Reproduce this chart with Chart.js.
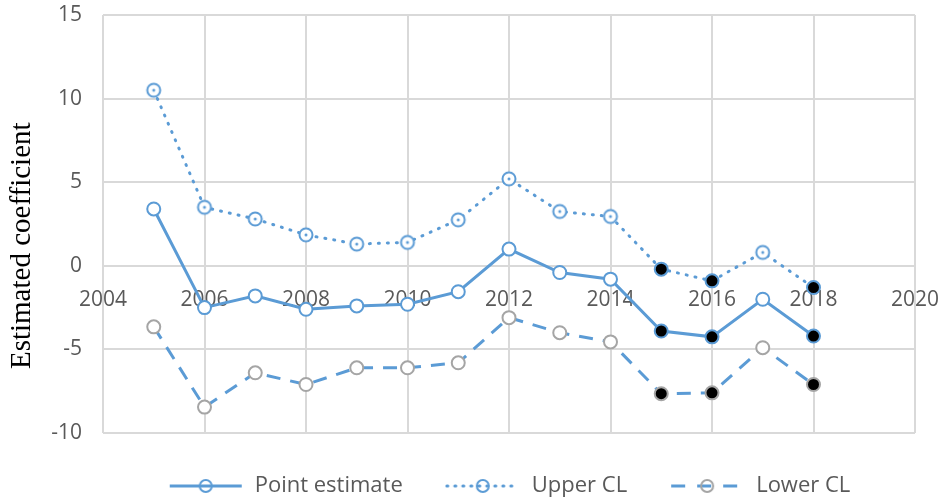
<!DOCTYPE html>
<html>
<head>
<meta charset="utf-8">
<script src="https://cdn.jsdelivr.net/npm/chart.js@4.4.1/dist/chart.umd.min.js"></script>
<style>
  html, body { margin: 0; padding: 0; background: #fff; }
  #wrap { width: 947px; height: 504px; }
</style>
</head>
<body>
<div id="wrap"><canvas id="chart"></canvas></div>
<script>
// values
const years = [2005, 2006, 2007, 2008, 2009, 2010, 2011, 2012, 2013, 2014, 2015, 2016, 2017, 2018];
const pointEstimate = [3.4, -2.5, -1.8, -2.6, -2.4, -2.3, -1.55, 1.0, -0.4, -0.8, -3.9, -4.25, -2.0, -4.2];
const upperCL = [10.5, 3.5, 2.8, 1.85, 1.3, 1.4, 2.75, 5.2, 3.25, 2.95, -0.2, -0.9, 0.8, -1.3];
const lowerCL = [-3.65, -8.45, -6.4, -7.1, -6.1, -6.1, -5.8, -3.1, -4.0, -4.55, -7.65, -7.6, -4.9, -7.1];
const seriesNames = ["Point estimate", "Upper CL", "Lower CL"];
const xTicks = [2004, 2020, 2];   // min, max, step
const yTicks = [-10, 15, 5];

const BLUE = "#5B9BD5";
const GREY = "#A5A5A5";

// significant years (upper CL below zero) get black filled markers
const fills = upperCL.map(v => (v < 0 ? "#000" : "#fff"));
const toXY = arr => years.map((yr, i) => ({ x: yr, y: arr[i] }));

// open ring with a dot in the middle (upper CL markers)
function dotRing() {
  const c = document.createElement("canvas");
  c.width = 18; c.height = 18;
  const g = c.getContext("2d");
  g.fillStyle = "#fff";
  g.beginPath(); g.arc(9, 9, 6.5, 0, Math.PI * 2); g.fill();
  g.strokeStyle = BLUE; g.lineWidth = 2; g.stroke();
  g.fillStyle = BLUE;
  g.beginPath(); g.arc(9, 9, 1.5, 0, Math.PI * 2); g.fill();
  return c;
}
const upperMarker = dotRing();

// little line + marker pictures for the legend
const ICON_W = 76;
function legendIcon(dash, cap, ring) {
  const c = document.createElement("canvas");
  c.width = ICON_W; c.height = 16;
  const g = c.getContext("2d");
  g.strokeStyle = BLUE;
  g.lineWidth = 3;
  g.lineCap = cap;
  g.setLineDash(dash);
  g.beginPath(); g.moveTo(2, 8); g.lineTo(ICON_W - 2, 8); g.stroke();
  g.setLineDash([]);
  g.beginPath(); g.arc(ICON_W / 2, 8, 6, 0, Math.PI * 2);
  g.strokeStyle = ring; g.lineWidth = 2; g.stroke();
  return c;
}
const icons = [
  legendIcon([], "butt", BLUE),
  legendIcon([1, 7], "round", BLUE),
  legendIcon([14, 12], "butt", GREY)
];

const common = {
  borderWidth: 3,
  pointRadius: 6.5,
  pointBorderWidth: 2,
  pointBackgroundColor: fills,
  pointHoverRadius: 6.5,
  tension: 0,
  showLine: true
};

new Chart(document.getElementById("chart"), {
  type: "scatter",
  data: {
    datasets: [
      Object.assign({}, common, {
        label: seriesNames[0], data: toXY(pointEstimate),
        borderColor: BLUE, pointBorderColor: BLUE
      }),
      Object.assign({}, common, {
        label: seriesNames[1], data: toXY(upperCL),
        borderColor: BLUE, pointBorderColor: BLUE,
        pointStyle: ctx => (fills[ctx.dataIndex] === "#fff" ? upperMarker : "circle"),
        borderDash: [1, 8], borderCapStyle: "round"
      }),
      Object.assign({}, common, {
        label: seriesNames[2], data: toXY(lowerCL),
        borderColor: BLUE, pointBorderColor: GREY,
        borderDash: [14, 10]
      })
    ]
  },
  options: {
    responsive: true,
    maintainAspectRatio: false,
    animation: false,
    layout: { padding: { top: 15, right: 32, bottom: -3, left: 0 } },
    scales: {
      x: {
        type: "linear",
        position: { y: 0 },
        min: xTicks[0], max: xTicks[1],
        ticks: {
          stepSize: xTicks[2], padding: 0, color: "#595959",
          font: { family: "Open Sans", size: 21 },
          callback: v => String(v)
        },
        // invisible tick marks only to push the labels off the zero line
        grid: { color: "#D9D9D9", lineWidth: 2, tickLength: 22, tickColor: "rgba(0,0,0,0)" },
        border: { display: false }
      },
      y: {
        min: yTicks[0], max: yTicks[1],
        ticks: { stepSize: yTicks[2], padding: 0, color: "#595959", font: { family: "Open Sans", size: 21 } },
        grid: { color: "#D9D9D9", lineWidth: 2, tickLength: 21, tickColor: "rgba(0,0,0,0)" },
        border: { display: false },
        title: {
          display: true,
          // trailing spaces push the text a bit down, as in the original
          text: "Estimated coefficient" + " ".repeat(6),
          color: "#000",
          font: { family: "Liberation Serif", size: 29 },
          padding: { top: 5, bottom: 0 }
        },
        afterFit: s => { s.width = 103; }
      }
    },
    plugins: {
      tooltip: { enabled: false },
      legend: {
        position: "bottom",
        fullSize: false,
        labels: {
          usePointStyle: true,
          pointStyleWidth: ICON_W,
          boxHeight: 16,
          padding: 42,
          color: "#595959",
          font: { family: "Open Sans", size: 22 },
          generateLabels: chart =>
            Chart.defaults.plugins.legend.labels.generateLabels(chart)
              .map((item, i) => Object.assign(item, { pointStyle: icons[i] }))
        }
      }
    }
  }
});
</script>
</body>
</html>
